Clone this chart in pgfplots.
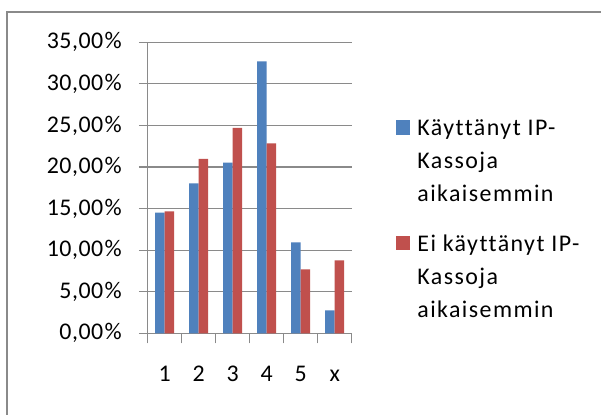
\documentclass[border=0pt]{standalone}
\usepackage{pgfplots}
\pgfplotsset{compat=1.18}
\usepackage{fontspec}
\setmainfont{Carlito}[LetterSpace=6, Ligatures={NoCommon}]
\newfontfamily\tickfont{Carlito}[LetterSpace=2]
\definecolor{barblue}{HTML}{4F81BD}
\definecolor{barred}{HTML}{C0504D}
\definecolor{gridgray}{HTML}{8A8A8A}
\definecolor{framegray}{HTML}{8A8A8A}
\begin{document}
\begin{tikzpicture}
\path[use as bounding box] (0bp,0bp) rectangle (601bp,-415bp);
\fill[white] (0bp,0bp) rectangle (601bp,-415bp);
\draw[framegray, line width=2bp] (7bp,-416bp) -- (7bp,-12bp) -- (602bp,-12bp);
\begin{axis}[
  at={(147.7bp,-333.3bp)}, anchor=south west,
  scale only axis, width=204bp, height=291bp,
  ybar=0pt, bar width=9.5bp,
  ymin=0, ymax=35, xmin=-0.5, xmax=5.5,
  axis lines*=left,
  axis line style={gridgray, line width=1.2bp},
  ymajorgrids, grid style={gridgray, line width=1.2bp},
  xtick={0,...,5}, xticklabels={1,2,3,4,5,x},
  minor xtick={-0.5,0.5,...,5.5},
  ytick={0,5,...,35},
  yticklabels={{0,00\kern1.5bp\%},{5,00\kern1.5bp\%},{10,00\kern1.5bp\%},{15,00\kern1.5bp\%},{20,00\kern1.5bp\%},{25,00\kern1.5bp\%},{30,00\kern1.5bp\%},{35,00\kern1.5bp\%}},
  tick align=outside, major tick length=8.7bp, minor tick length=10bp,
  tick style={gridgray, line width=1.2bp},
  major x tick style={draw=none},
  tick label style={font=\tickfont\fontsize{24}{28}\selectfont, text=black},
  yticklabel style={anchor=east, inner sep=0pt, xshift=-17bp},
  xticklabel style={anchor=base, inner sep=0pt, yshift=-39bp},
  legend image code/.code={\fill[#1] (0bp,1bp) rectangle (14.5bp,15.5bp);},
  legend cell align=left,
  legend style={at={(1.2167,0.7381)}, anchor=north west, draw=none, fill=none,
    inner sep=0pt, outer sep=0pt, row sep=11bp, column sep=7bp,
    cells={anchor=base west},
    nodes={inner sep=0pt, outer sep=0pt, text height=17bp, text depth=5bp,
      font=\fontsize{24}{33}\selectfont, text=black}},
]
\addplot[fill=barblue, draw=none] coordinates {(0,14.5) (1,18.04) (2,20.52) (3,32.7) (4,10.95) (5,2.77)};
\addlegendentry{Käyttänyt IP-}
\addlegendimage{empty legend}
\addlegendentry{Kassoja}
\addlegendimage{empty legend}
\addlegendentry[text depth=21.5bp]{aikaisemmin}
\addplot[fill=barred, draw=none] coordinates {(0,14.67) (1,20.97) (2,24.7) (3,22.85) (4,7.7) (5,8.78)};
\addlegendentry{Ei käyttänyt IP-}
\addlegendimage{empty legend}
\addlegendentry{Kassoja}
\addlegendimage{empty legend}
\addlegendentry{aikaisemmin}
\end{axis}
\end{tikzpicture}
\end{document}
